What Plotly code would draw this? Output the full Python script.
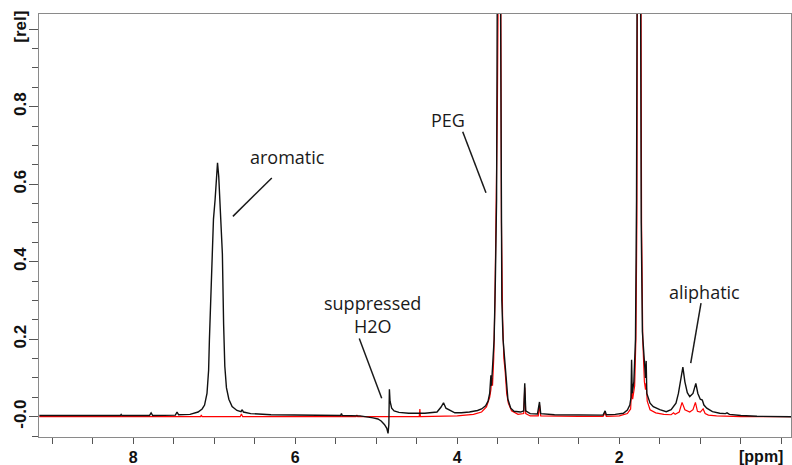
import plotly.graph_objects as go

# ---------------- data ----------------
black_ppm = [9.16, 8.60, 8.16, 8.15, 8.14, 7.80, 7.78, 7.76, 7.48, 7.46, 7.44, 7.30, 7.20, 7.15, 7.12,
             7.09, 7.07, 7.06, 7.04, 7.02, 7.01, 6.99, 6.975, 6.96, 6.945, 6.93, 6.915, 6.90, 6.885,
             6.87, 6.85, 6.82, 6.78, 6.72, 6.67, 6.655, 6.64, 6.55, 6.30, 6.00, 5.50, 5.44, 5.43, 5.42,
             5.20, 5.10, 5.04, 4.98, 4.94, 4.90, 4.87, 4.855, 4.845, 4.838, 4.83, 4.81, 4.78, 4.72,
             4.60, 4.40, 4.25, 4.20, 4.17, 4.14, 4.10, 4.07, 4.03, 3.95, 3.85, 3.75, 3.70, 3.65, 3.62,
             3.60, 3.59, 3.585, 3.578, 3.565, 3.545, 3.53, 3.515, 3.507, 3.487, 3.465, 3.458, 3.45,
             3.435, 3.42, 3.41, 3.395, 3.375, 3.34, 3.30, 3.22, 3.18, 3.167, 3.155, 3.10, 3.01, 2.985,
             2.97, 2.80, 2.50, 2.20, 2.175, 2.16, 2.05, 1.95, 1.90, 1.87, 1.855, 1.848, 1.84, 1.82,
             1.80, 1.787, 1.781, 1.758, 1.736, 1.729, 1.715, 1.69, 1.676, 1.668, 1.66, 1.62, 1.58,
             1.50, 1.42, 1.36, 1.32, 1.30, 1.27, 1.24, 1.215, 1.19, 1.16, 1.13, 1.09, 1.055, 1.03,
             1.00, 0.975, 0.955, 0.92, 0.85, 0.76, 0.69, 0.67, 0.64, 0.50, 0.30, -0.12]
black_int = [0.003, 0.003, 0.003, 0.006, 0.003, 0.003, 0.010, 0.003, 0.004, 0.012, 0.005, 0.006, 0.012,
             0.020, 0.030, 0.060, 0.120, 0.200, 0.350, 0.470, 0.510, 0.560, 0.620, 0.655, 0.620, 0.550,
             0.510, 0.420, 0.240, 0.130, 0.075, 0.045, 0.026, 0.016, 0.013, 0.018, 0.012, 0.008, 0.005,
             0.004, 0.003, 0.003, 0.008, 0.003, 0.002, 0.000, -0.003, -0.006, -0.011, -0.020, -0.030,
             -0.043, -0.020, 0.071, 0.040, 0.022, 0.015, 0.011, 0.009, 0.009, 0.012, 0.025, 0.036,
             0.022, 0.018, 0.016, 0.010, 0.010, 0.012, 0.016, 0.020, 0.028, 0.040, 0.060, 0.095, 0.107,
             0.080, 0.120, 0.200, 0.350, 0.560, 1.040, 6.000, 1.040, 0.560, 0.300, 0.200, 0.160, 0.140,
             0.080, 0.045, 0.022, 0.014, 0.012, 0.015, 0.086, 0.015, 0.008, 0.007, 0.038, 0.008, 0.005,
             0.004, 0.004, 0.015, 0.005, 0.006, 0.009, 0.017, 0.030, 0.050, 0.147, 0.060, 0.090, 0.200,
             0.560, 1.040, 6.000, 1.040, 0.500, 0.220, 0.120, 0.100, 0.144, 0.060, 0.035, 0.026, 0.018,
             0.013, 0.018, 0.028, 0.035, 0.060, 0.100, 0.128, 0.090, 0.062, 0.052, 0.060, 0.086, 0.060,
             0.045, 0.043, 0.030, 0.022, 0.013, 0.009, 0.008, 0.010, 0.006, 0.003, 0.001, 0.000]

red_ppm = [9.16, 7.17, 7.16, 7.15, 6.68, 6.665, 6.65, 5.25, 5.24, 5.23, 4.47, 4.462, 4.455, 4.00, 3.80,
           3.70, 3.64, 3.60, 3.585, 3.575, 3.565, 3.55, 3.535, 3.52, 3.505, 3.497, 3.478, 3.462, 3.455,
           3.44, 3.425, 3.41, 3.39, 3.37, 3.33, 3.25, 3.18, 3.167, 3.155, 3.10, 3.00, 2.985, 2.97,
           2.50, 2.20, 2.175, 2.16, 2.00, 1.90, 1.86, 1.848, 1.835, 1.81, 1.795, 1.783, 1.777, 1.752,
           1.731, 1.725, 1.71, 1.69, 1.676, 1.668, 1.655, 1.62, 1.55, 1.45, 1.36, 1.33, 1.31, 1.26,
           1.225, 1.19, 1.13, 1.09, 1.06, 1.035, 1.00, 0.965, 0.94, 0.90, 0.80, 0.50, -0.12]
red_int = [0.000, 0.000, 0.004, 0.000, 0.000, 0.007, 0.000, 0.000, 0.004, 0.000, 0.000, 0.020, 0.000,
           0.002, 0.006, 0.012, 0.025, 0.050, 0.070, 0.100, 0.080, 0.150, 0.300, 0.500, 0.800, 1.040,
           6.000, 1.040, 0.500, 0.250, 0.150, 0.120, 0.060, 0.035, 0.015, 0.006, 0.008, 0.075, 0.008,
           0.002, 0.002, 0.030, 0.002, 0.001, 0.001, 0.010, 0.001, 0.002, 0.008, 0.020, 0.070, 0.045,
           0.080, 0.200, 0.500, 1.040, 6.000, 1.040, 0.500, 0.200, 0.090, 0.070, 0.087, 0.040, 0.018,
           0.010, 0.006, 0.005, 0.010, 0.006, 0.012, 0.037, 0.018, 0.012, 0.018, 0.037, 0.014, 0.012,
           0.020, 0.008, 0.004, 0.002, 0.000, 0.000]

x_tick_vals = [8, 6, 4, 2]
x_tick_text = ["8", "6", "4", "2"]
y_tick_vals = [0.0, 0.2, 0.4, 0.6, 0.8, 1.0]
y_tick_text = ["-0.0", "0.2", "0.4", "0.6", "0.8", "[rel]"]

# labels: (text, ppm, intensity) and leader lines (ppm0, int0, ppm1, int1)
label_text = ["aromatic", "PEG", "suppressed<br>H2O", "aliphatic"]
label_ppm = [6.10, 4.115, 5.05, 0.942]
label_int = [0.670, 0.766, 0.265, 0.322]
leader_lines = [(6.29, 0.616, 6.77, 0.517),
                (3.933, 0.7355, 3.646, 0.578),
                (5.21, 0.202, 4.933, 0.0475),
                (0.991, 0.293, 1.118, 0.138)]

# ---------------- figure ----------------
fig = go.Figure()
fig.add_trace(go.Scatter(x=red_ppm, y=red_int, mode="lines",
                         line=dict(color="#ff0000", width=1.2), hoverinfo="skip"))
fig.add_trace(go.Scatter(x=black_ppm, y=black_int, mode="lines",
                         line=dict(color="#111111", width=1.4), hoverinfo="skip"))

for t, px, py in zip(label_text, label_ppm, label_int):
    fig.add_annotation(x=px, y=py, xref="x", yref="y", text=t, showarrow=False,
                       font=dict(family="Open Sans", size=18, color="#1a1a1a"),
                       xanchor="center", yanchor="middle")
for (a, b, c, d) in leader_lines:
    fig.add_shape(type="line", x0=a, y0=b, x1=c, y1=d, xref="x", yref="y",
                  line=dict(color="#1a1a1a", width=1.5))

fig.add_annotation(x=0.25, y=-0.045, xref="x", yref="paper", text="[ppm]", showarrow=False,
                   font=dict(family="Liberation Sans, Arial", size=16, color="#111111", weight="bold"),
                   xanchor="center", yanchor="middle")

x_tick_font = dict(family="Liberation Sans, Arial", size=16, color="#111111", weight="bold")
y_tick_font = dict(family="Liberation Sans, Arial", size=17, color="#111111", weight="bold")

fig.update_layout(
    template="none",
    width=792, height=465,
    margin=dict(l=39, r=1, t=14, b=28, pad=0),
    plot_bgcolor="white", paper_bgcolor="white",
    showlegend=False,
    xaxis=dict(range=[9.164, -0.12], tickmode="array", tickvals=x_tick_vals, ticktext=x_tick_text,
               ticks="outside", ticklen=6, tickwidth=1, tickcolor="#555555",
               showline=True, linecolor="#8a8a8a", linewidth=1, mirror=True,
               showgrid=False, zeroline=False, automargin=False, tickfont=x_tick_font,
               minor=dict(tickmode="linear", tick0=0, dtick=0.5, ticks="outside", ticklen=6,
                          tickwidth=1, tickcolor="#555555", showgrid=False)),
    yaxis=dict(range=[-0.0524, 1.0392], tickmode="array", tickvals=y_tick_vals, ticktext=y_tick_text,
               tickangle=-90, ticks="outside", ticklen=9, tickwidth=1, tickcolor="#555555",
               showline=True, linecolor="#8a8a8a", linewidth=1, mirror=True,
               showgrid=False, zeroline=False, automargin=False, tickfont=y_tick_font,
               ticklabelstandoff=-4,
               minor=dict(tickmode="linear", tick0=0, dtick=0.05, ticks="outside", ticklen=6,
                          tickwidth=1, tickcolor="#555555", showgrid=False)),
)

fig.write_html("out.html")
